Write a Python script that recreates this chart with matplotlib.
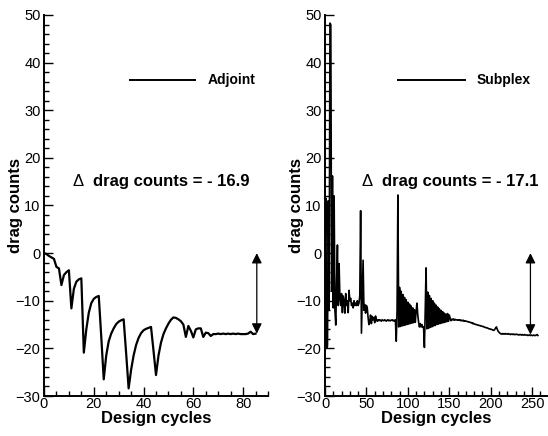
import matplotlib
matplotlib.use("Agg")
import matplotlib.pyplot as plt
from matplotlib.ticker import MultipleLocator

plt.rcParams['font.family'] = ['Liberation Sans', 'DejaVu Sans']

# Adjoint optimisation history: change in drag counts per design cycle (0..85)
adjoint_drag = [
    0.0, -0.2, -0.6, -0.9, -1.2, -2.9, -3.2, -6.7, -4.6, -4.0,
    -3.6, -11.6, -7.5, -6.0, -5.5, -5.3, -20.9, -16.0, -12.5, -10.5,
    -9.6, -9.2, -9.0, -17.5, -26.5, -21.5, -18.5, -16.9, -15.8, -14.9,
    -14.4, -14.1, -13.9, -21.0, -28.4, -24.5, -21.5, -19.3, -17.8, -16.8,
    -16.2, -15.9, -15.7, -15.5, -20.5, -25.6, -21.5, -18.8, -17.0, -15.8,
    -14.8, -14.0, -13.5, -13.6, -13.9, -14.3, -15.0, -17.6, -15.3, -16.3,
    -17.7, -16.0, -15.8, -15.8, -17.6, -16.7, -16.8, -17.4, -17.0, -17.0,
    -16.9, -17.0, -16.9, -17.0, -16.9, -17.0, -16.9, -17.0, -16.9, -17.0,
    -17.0, -17.0, -16.9, -16.5, -17.0, -16.9,
]
adjoint_cycles = list(range(len(adjoint_drag)))

# Subplex optimisation history: change in drag counts per design cycle (0..257)
subplex_drag = [
    0.0, 11.5, -20.0, -19.5, 11.0, -12.0, 48.3, 48.0, -8.0, 16.2,
    -11.5, 12.0, -12.0, -15.1, -6.0, 1.7, -11.0, -2.2, -9.5, -11.0,
    -8.5, -12.5, -9.0, -10.0, -12.6, -8.5, -11.0, -10.0, -12.5, -7.8,
    -10.0, -9.5, -11.0, -10.5, -11.5, -10.0, -11.0, -10.5, -11.0, -10.0,
    -11.0, -10.5, -9.0, 8.9, -16.8, -9.5, -1.5, -12.0, -10.8, -12.6,
    -11.0, -11.5, -13.5, -15.0, -14.5, -13.0, -14.8, -13.3, -14.0, -13.5,
    -14.6, -13.2, -14.0, -14.3, -14.0, -14.2, -14.0, -14.1, -14.3, -14.0,
    -14.1, -14.2, -14.0, -14.1, -14.3, -14.1, -14.0, -14.2, -14.1, -14.2,
    -14.1, -14.0, -14.2, -14.1, -14.3, -14.0, -18.5, -12.0, 12.2, -15.5,
    -7.2, -15.4, -8.0, -15.3, -8.7, -15.2, -9.3, -15.1, -9.8, -15.0,
    -10.3, -14.9, -10.7, -14.8, -11.1, -14.7, -11.5, -14.6, -11.9, -14.5,
    -12.2, -10.5, -13.0, -14.5, -15.5, -14.8, -15.5, -15.0, -15.6, -15.5,
    -19.8, -12.0, -3.1, -15.9, -8.2, -15.8, -8.9, -15.6, -9.5, -15.5,
    -10.0, -15.3, -10.5, -15.2, -10.9, -15.0, -11.3, -14.9, -11.7, -14.8,
    -12.0, -14.7, -12.3, -14.6, -12.6, -14.5, -12.8, -14.4, -12.7, -14.3,
    -13.0, -13.6, -14.2, -13.9, -14.0, -13.8, -14.1, -13.9, -14.0, -14.0,
    -14.1, -14.0, -14.1, -14.0, -14.2, -14.1, -14.2, -14.1, -14.3, -14.2,
    -14.3, -14.3, -14.4, -14.4, -14.5, -14.5, -14.6, -14.6, -14.8, -14.7,
    -14.9, -14.9, -15.0, -15.0, -15.1, -15.1, -15.2, -15.2, -15.3, -15.3,
    -15.4, -15.4, -15.5, -15.6, -15.6, -15.7, -15.7, -15.8, -15.9, -15.9,
    -16.0, -16.0, -16.1, -16.2, -16.2, -16.0, -15.7, -15.5, -16.0, -16.4,
    -16.6, -16.8, -16.9, -17.0, -16.9, -17.0, -16.9, -17.0, -16.9, -17.0,
    -17.0, -16.9, -17.0, -17.0, -17.1, -17.0, -17.0, -17.1, -17.0, -17.1,
    -17.1, -17.0, -17.1, -17.1, -17.2, -17.1, -17.1, -17.2, -17.1, -17.2,
    -17.2, -17.1, -17.2, -17.2, -17.2, -17.3, -17.2, -17.2, -17.3, -17.2,
    -17.3, -17.3, -17.2, -17.3, -17.3, -17.2, -17.1, -17.3,
]
subplex_cycles = list(range(len(subplex_drag)))

# Net drag reduction reported for each method
adjoint_delta = -16.9
subplex_delta = -17.1

fig = plt.figure(figsize=(5.48, 4.36), dpi=100)
ax1 = fig.add_axes([44 / 548, 40 / 436, 224 / 548, 381 / 436])
ax2 = fig.add_axes([325 / 548, 40 / 436, 222 / 548, 381 / 436])


def style_axes(ax, xmax, xmajor, xminor):
    ax.set_xlim(0, xmax)
    ax.set_ylim(-30, 50)
    for side in ('top', 'right'):
        ax.spines[side].set_visible(False)
    for side in ('left', 'bottom'):
        ax.spines[side].set_linewidth(1.4)
    ax.xaxis.set_major_locator(MultipleLocator(xmajor))
    ax.xaxis.set_minor_locator(MultipleLocator(xminor))
    ax.yaxis.set_major_locator(MultipleLocator(10))
    ax.yaxis.set_minor_locator(MultipleLocator(2))
    ax.tick_params(which='both', direction='in', top=False, right=False,
                   labelsize=10.5, width=1.0)
    ax.tick_params(axis='x', which='both', pad=0.5)
    ax.tick_params(axis='y', which='both', pad=2.5)
    ax.tick_params(which='major', length=6.5)
    ax.tick_params(which='minor', length=3.5)
    ax.set_xlabel('Design cycles', fontsize=12, fontweight='bold',
                  labelpad=0.5)
    ax.set_ylabel('drag counts', fontsize=12, fontweight='bold',
                  labelpad=-5.0)


style_axes(ax1, 90, 20, 5)
style_axes(ax2, 268, 50, 10)

arrow_style = dict(arrowstyle='<|-|>', color='black', lw=0.9,
                   mutation_scale=15, shrinkA=0, shrinkB=0)

# Adjoint panel
ax1.plot(adjoint_cycles, adjoint_drag, color='black', lw=1.6)
ax1.plot([34.5, 60.6], [36.3, 36.3], color='black', lw=1.4)
ax1.text(65.9, 36.3, 'Adjoint', fontsize=10, fontweight='bold', va='center')
ax1.text(11.5, 15.0, 'Δ', fontsize=12, va='center')
ax1.text(19.8, 15.0, 'drag counts = - 16.9', fontsize=12, fontweight='bold',
         va='center')
ax1.annotate('', xy=(85.5, adjoint_delta), xytext=(85.5, 0),
             arrowprops=arrow_style)

# Subplex panel
ax2.plot(subplex_cycles, subplex_drag, color='black', lw=1.2)
ax2.plot([88.6, 169.3], [36.3, 36.3], color='black', lw=1.4)
ax2.text(183.4, 36.3, 'Subplex', fontsize=10, fontweight='bold', va='center')
ax2.text(44.4, 15.0, 'Δ', fontsize=12, va='center')
ax2.text(68.5, 15.0, 'drag counts = - 17.1', fontsize=12, fontweight='bold',
         va='center')
ax2.annotate('', xy=(248, subplex_delta), xytext=(248, 0),
             arrowprops=arrow_style)

fig.savefig('out.png', dpi=100)
